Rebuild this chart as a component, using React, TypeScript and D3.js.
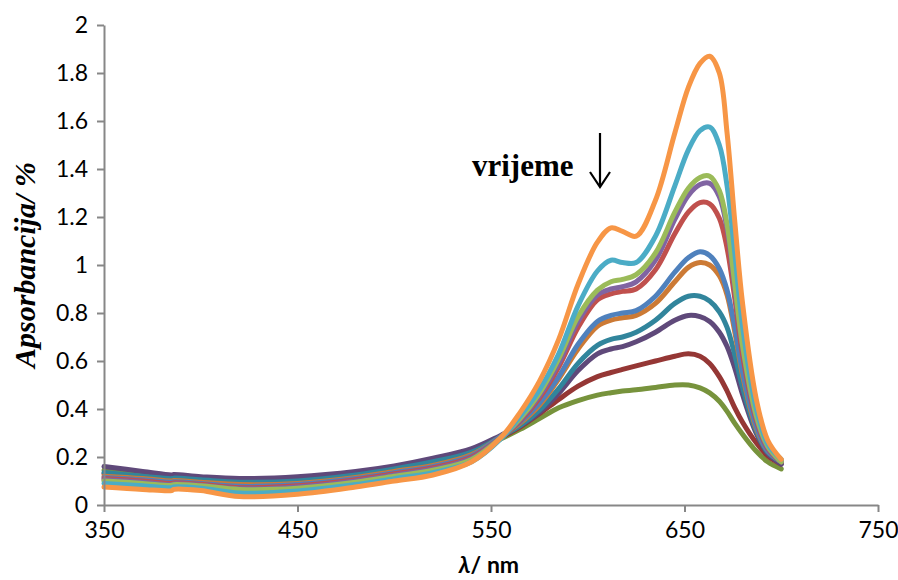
import React, { useEffect, useRef } from "react";
import * as d3 from "d3";

const wavelengths = [350, 370, 385, 386, 400, 420, 450, 480, 500, 520, 540, 555, 565, 575, 585, 595, 605, 612, 618, 625, 635, 645, 652, 658, 663, 668, 672, 676, 680, 687, 693, 700];

const olive = [0.145, 0.13, 0.118, 0.12, 0.11, 0.1, 0.11, 0.135, 0.155, 0.185, 0.225, 0.275, 0.315, 0.36, 0.405, 0.435, 0.458, 0.468, 0.475, 0.48, 0.49, 0.5, 0.5, 0.488, 0.467, 0.432, 0.39, 0.34, 0.295, 0.225, 0.18, 0.15];
const darkRed = [0.13, 0.115, 0.105, 0.108, 0.1, 0.09, 0.095, 0.12, 0.145, 0.175, 0.215, 0.28, 0.325, 0.38, 0.44, 0.495, 0.535, 0.552, 0.565, 0.58, 0.6, 0.62, 0.63, 0.62, 0.59, 0.535, 0.475, 0.405, 0.345, 0.26, 0.205, 0.17];
const darkPurple = [0.16, 0.14, 0.125, 0.127, 0.118, 0.11, 0.118, 0.14, 0.163, 0.195, 0.235, 0.29, 0.33, 0.385, 0.465, 0.56, 0.63, 0.65, 0.66, 0.68, 0.72, 0.77, 0.79, 0.785, 0.765, 0.72, 0.66, 0.57, 0.46, 0.3, 0.215, 0.17];
const teal = [0.135, 0.12, 0.11, 0.112, 0.105, 0.095, 0.1, 0.125, 0.15, 0.18, 0.22, 0.285, 0.33, 0.395, 0.485, 0.59, 0.665, 0.69, 0.7, 0.72, 0.77, 0.84, 0.87, 0.87, 0.85, 0.805, 0.74, 0.625, 0.49, 0.31, 0.22, 0.18];
const brown = [0.12, 0.11, 0.1, 0.102, 0.095, 0.085, 0.09, 0.115, 0.14, 0.165, 0.21, 0.285, 0.34, 0.415, 0.525, 0.65, 0.745, 0.77, 0.78, 0.79, 0.84, 0.93, 0.99, 1.01, 1.0, 0.955, 0.875, 0.72, 0.54, 0.32, 0.225, 0.18];
const blue = [0.115, 0.105, 0.095, 0.097, 0.09, 0.078, 0.085, 0.11, 0.135, 0.16, 0.205, 0.285, 0.345, 0.425, 0.535, 0.67, 0.765, 0.79, 0.8, 0.81, 0.87, 0.97, 1.03, 1.055, 1.04, 0.985, 0.895, 0.74, 0.555, 0.33, 0.225, 0.18];
const red = [0.11, 0.1, 0.09, 0.092, 0.086, 0.072, 0.08, 0.105, 0.13, 0.155, 0.2, 0.28, 0.35, 0.445, 0.575, 0.74, 0.855, 0.88, 0.89, 0.9, 0.98, 1.13, 1.22, 1.26, 1.255, 1.195, 1.07, 0.86, 0.625, 0.355, 0.235, 0.18];
const purple = [0.105, 0.095, 0.085, 0.088, 0.082, 0.068, 0.075, 0.1, 0.125, 0.15, 0.195, 0.28, 0.355, 0.455, 0.59, 0.765, 0.875, 0.9, 0.91, 0.93, 1.02, 1.19, 1.29, 1.335, 1.34, 1.285, 1.15, 0.9, 0.655, 0.365, 0.24, 0.18];
const green = [0.1, 0.09, 0.082, 0.085, 0.08, 0.065, 0.07, 0.095, 0.12, 0.145, 0.19, 0.28, 0.36, 0.465, 0.61, 0.785, 0.895, 0.93, 0.94, 0.96, 1.05, 1.22, 1.32, 1.365, 1.37, 1.31, 1.17, 0.92, 0.665, 0.375, 0.245, 0.18];
const cyan = [0.09, 0.08, 0.072, 0.075, 0.07, 0.05, 0.058, 0.085, 0.11, 0.135, 0.18, 0.275, 0.37, 0.48, 0.63, 0.83, 0.975, 1.02, 1.01, 1.01, 1.12, 1.33, 1.48, 1.56, 1.575, 1.5, 1.33, 1.05, 0.745, 0.405, 0.255, 0.19];
const orange = [0.075, 0.065, 0.06, 0.065, 0.06, 0.035, 0.045, 0.075, 0.1, 0.125, 0.18, 0.28, 0.385, 0.515, 0.69, 0.92, 1.095, 1.155, 1.14, 1.12, 1.27, 1.55, 1.74, 1.84, 1.87, 1.8, 1.55, 1.18, 0.84, 0.445, 0.27, 0.19];

const seriesList = [olive, darkRed, darkPurple, teal, brown, blue, red, purple, green, cyan, orange];
const seriesColors = ["#77933C", "#953735", "#5F497A", "#31859C", "#CC7A35", "#4F81BD", "#C0504D", "#8064A2", "#9BBB59", "#4BACC6", "#F79646"];

const xTicks = [350, 450, 550, 650, 750];
const yTicks = [0, 0.2, 0.4, 0.6, 0.8, 1, 1.2, 1.4, 1.6, 1.8, 2];

const W = 898;
const H = 580;
const left = 104;
const right = 878;
const top = 25;
const bottom = 505;

export default function App() {
  const xRef = useRef<SVGGElement>(null);
  const yRef = useRef<SVGGElement>(null);

  const x = d3.scaleLinear().domain([350, 750]).range([left, right]);
  const y = d3.scaleLinear().domain([0, 2]).range([bottom, top]);

  useEffect(() => {
    const fmt = (d: any) => String(+d.toFixed(1));
    const xa = d3.axisBottom(x).tickValues(xTicks).tickSize(7).tickSizeOuter(0).tickPadding(10).tickFormat(fmt as any);
    const ya = d3.axisLeft(y).tickValues(yTicks).tickSize(7).tickSizeOuter(0).tickPadding(9).tickFormat(fmt as any);
    const gx = d3.select(xRef.current!);
    gx.call(xa as any);
    const gy = d3.select(yRef.current!);
    gy.call(ya as any);
    [gx, gy].forEach((g) => {
      g.select(".domain").attr("stroke", "#878787").attr("stroke-width", 2);
      g.selectAll(".tick line").attr("stroke", "#878787").attr("stroke-width", 2);
      g.selectAll(".tick text")
        .attr("fill", "#000")
        .style("font-family", "Lato, 'Open Sans', sans-serif")
        .style("font-size", "23px");
    });
  }, []);

  const line = d3
    .line<number>()
    .x((_, i) => x(wavelengths[i]))
    .y((d) => y(d))
    .curve(d3.curveCatmullRom.alpha(0.5));

  return (
    <svg width={W} height={H} style={{ position: "absolute", left: 0, top: 0, background: "#fff" }}>
      <rect x={0} y={0} width={W} height={H} fill="#fff" />
      {seriesList.map((s, i) => (
        <path key={i} d={line(s) || ""} fill="none" stroke={seriesColors[i]} strokeWidth={5} strokeLinejoin="round" strokeLinecap="round" />
      ))}
      <g ref={xRef} transform={`translate(0,${bottom})`} />
      <g ref={yRef} transform={`translate(${left},0)`} />
      <text
        transform={`translate(35,${(top + bottom) / 2}) rotate(-90)`}
        textAnchor="middle"
        style={{ fontFamily: "'Liberation Serif', 'Times New Roman', serif", fontWeight: "bold", fontStyle: "italic", fontSize: "30px" }}
      >
        Apsorbancija/ %
      </text>
      <text
        x={(left + right) / 2 - 2}
        y={573}
        textAnchor="middle"
        style={{ fontFamily: "Lato, 'Open Sans', sans-serif", fontWeight: "bold", fontSize: "23px" }}
      >
        <tspan fontStyle="italic">λ</tspan>/ nm
      </text>
      <text
        x={472}
        y={176}
        style={{ fontFamily: "'Liberation Serif', 'Times New Roman', serif", fontWeight: "bold", fontSize: "31px" }}
      >
        vrijeme
      </text>
      <path d="M600,133 L600,186" stroke="#000" strokeWidth={2.2} fill="none" />
      <path d="M590,172 L600,187 L610,172" stroke="#000" strokeWidth={2.2} fill="none" />
    </svg>
  );
}
